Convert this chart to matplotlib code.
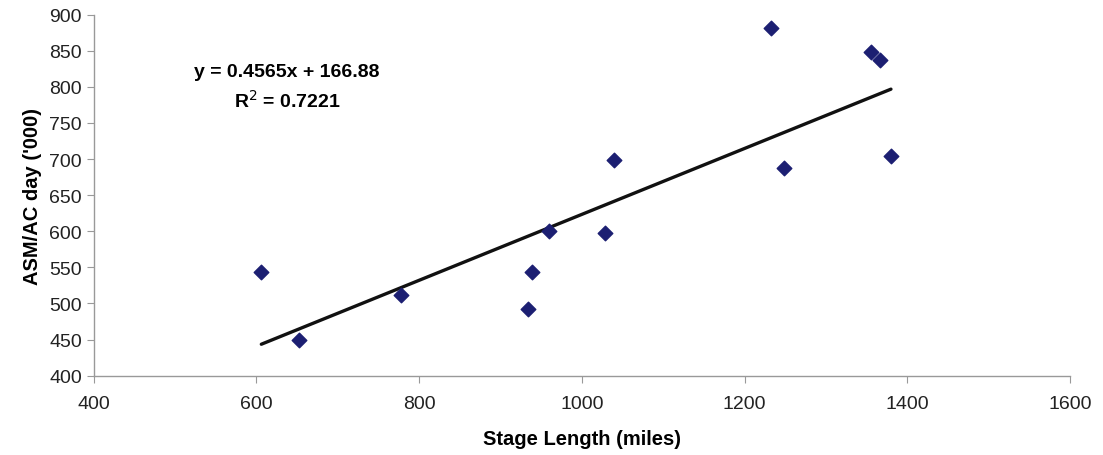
import numpy as np
import matplotlib.pyplot as plt

# stage length (miles) vs ASM per aircraft day ('000)
stage_length = [606, 652, 778, 934, 939, 960, 1028, 1040, 1232, 1248, 1356, 1366, 1380]
asm_per_day = [543, 449, 512, 492, 544, 600, 597, 699, 881, 688, 849, 837, 704]

slope = 0.4565
intercept = 166.88
r_squared = 0.7221

x_ticks = [400, 600, 800, 1000, 1200, 1400, 1600]
y_ticks = [400, 450, 500, 550, 600, 650, 700, 750, 800, 850, 900]

plt.rcParams['font.family'] = ['Liberation Sans', 'DejaVu Sans']

fig = plt.figure(figsize=(11.03, 4.56), dpi=100)
ax = fig.add_axes([0.0850, 0.174, 0.885, 0.7916])

ax.scatter(stage_length, asm_per_day, marker='D', s=55, color='#1c1f72', zorder=3)

# linear trendline over the data range
xs = np.array([min(stage_length), max(stage_length)])
ax.plot(xs, slope * xs + intercept, color='#111111', lw=2.4, solid_capstyle='round', zorder=2)

ax.set_xlim(400, 1600)
ax.set_ylim(400, 900)
ax.set_xticks(x_ticks)
ax.set_yticks(y_ticks)

for side in ['top', 'right']:
    ax.spines[side].set_visible(False)
for side in ['left', 'bottom']:
    ax.spines[side].set_color('#999999')
    ax.spines[side].set_linewidth(1.0)
ax.tick_params(direction='out', length=5, color='#999999', labelsize=14, labelcolor='#222222')
ax.tick_params(axis='x', pad=9)

ax.set_xlabel('Stage Length (miles)', fontsize=14.5, fontweight='bold', labelpad=12)
ax.set_ylabel("ASM/AC day ('000)", fontsize=14.5, fontweight='bold', labelpad=5)

ax.text(0.198, 0.80, f'y = {slope}x + {intercept}\nR$^2$ = {r_squared}',
        transform=ax.transAxes, ha='center', va='center', fontsize=14,
        fontweight='bold', linespacing=1.45)

fig.savefig('out.png', dpi=100)
